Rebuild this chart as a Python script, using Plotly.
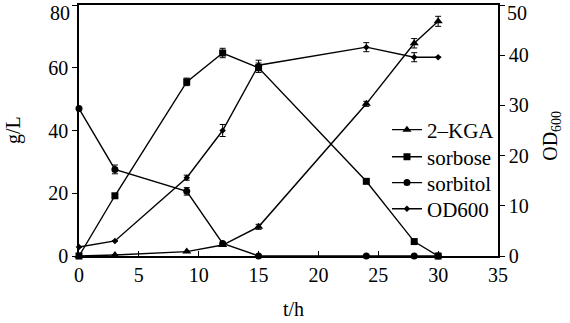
import plotly.graph_objects as go

t = [0, 3, 9, 12, 15, 24, 28, 30]

kga = [0, 0.3, 1.4, 3.5, 9.3, 48.5, 67.8, 74.8]
kga_err = [0, 0, 0, 0, 0.8, 0.8, 1.5, 1.6]

sorbose = [0, 19.2, 55.5, 64.7, 60.0, 23.8, 4.6, 0]
sorbose_err = [0, 0.6, 1.2, 1.5, 1.5, 0.5, 0, 0]

sorbitol = [47, 27.6, 20.6, 4.0, 0, 0, 0, 0]
sorbitol_err = [0, 1.4, 1.2, 0, 0, 0, 0, 0]

od600 = [1.8, 3.0, 15.6, 25.0, 38.0, 41.6, 39.6, 39.6]
od600_err = [0, 0, 0.5, 1.2, 1.0, 0.9, 0.9, 0]

y1_ticks = [0, 20, 40, 60, 80]
y2_ticks = [0, 10, 20, 30, 40, 50]

FONT = "Liberation Serif"
LINE = dict(color="black", width=1.4)

def err(a):
    return dict(type="data", array=a, color="black", thickness=1, width=3)

series = [
    ("2–KGA", kga, kga_err, "triangle-up", 8, "y", "legend"),
    ("sorbose", sorbose, sorbose_err, "square", 7, "y", "legend2"),
    ("sorbitol", sorbitol, sorbitol_err, "circle", 7, "y", "legend3"),
    ("OD600", od600, od600_err, "diamond", 5, "y2", "legend4"),
]

fig = go.Figure()
for name, ys, es, sym, sz, yax, leg in series:
    fig.add_trace(go.Scatter(x=t, y=ys, name=name, mode="lines+markers", yaxis=yax,
                             legend=leg, line=LINE,
                             marker=dict(symbol=sym, size=sz, color="black"),
                             error_y=err(es), cliponaxis=False))

axis_common = dict(tickcolor="black", ticklen=5, showline=True, linecolor="black",
                   linewidth=1.5, showgrid=False, zeroline=False, automargin=False,
                   ticklabeloverflow="allow",
                   tickfont=dict(size=20, family=FONT, color="black"))

leg_style = dict(xanchor="left", yanchor="middle", bgcolor="rgba(0,0,0,0)",
                 font=dict(size=21, family=FONT, color="black"), itemsizing="trace")
leg_x = 0.735
leg_y = [0.502, 0.394, 0.291, 0.187]

fig.update_layout(
    width=570, height=323,
    margin=dict(l=79, r=72, t=5, b=67),
    paper_bgcolor="white", plot_bgcolor="white",
    font=dict(family=FONT, size=20, color="black"),
    showlegend=True,
    legend=dict(x=leg_x, y=leg_y[0], **leg_style),
    legend2=dict(x=leg_x, y=leg_y[1], **leg_style),
    legend3=dict(x=leg_x, y=leg_y[2], **leg_style),
    legend4=dict(x=leg_x, y=leg_y[3], **leg_style),
    xaxis=dict(range=[0, 35], dtick=5, ticks="inside", mirror=True, **axis_common),
    yaxis=dict(range=[0, 80], tickvals=y1_ticks,
               ticktext=[str(v) for v in y1_ticks[:-1]] + [""],
               ticks="outside", **axis_common),
    yaxis2=dict(range=[0, 50], tickvals=y2_ticks,
                ticktext=[str(v) for v in y2_ticks[:-1]] + [""],
                ticks="outside", overlaying="y", side="right", **axis_common),
    annotations=[
        dict(text=str(y1_ticks[-1]), x=0, y=1, xref="paper", yref="paper",
             xanchor="right", yanchor="middle", xshift=-7, yshift=-8,
             showarrow=False, font=dict(size=20, family=FONT)),
        dict(text=str(y2_ticks[-1]), x=1, y=1, xref="paper", yref="paper",
             xanchor="left", yanchor="middle", xshift=7, yshift=-8,
             showarrow=False, font=dict(size=20, family=FONT)),
        dict(text="t/h", x=0.511, y=-0.211, xref="paper", yref="paper",
             xanchor="center", yanchor="middle",
             showarrow=False, font=dict(size=20, family=FONT)),
        dict(text="g/L", x=-0.155, y=0.502, xref="paper", yref="paper", textangle=-90,
             xanchor="center", yanchor="middle",
             showarrow=False, font=dict(size=20, family=FONT)),
        dict(text="OD<sub>600</sub>", x=1.126, y=0.478, xref="paper", yref="paper",
             textangle=-90, xanchor="center", yanchor="middle",
             showarrow=False, font=dict(size=20, family=FONT)),
    ],
)

fig.write_html("out.html", config={"displayModeBar": False},
               post_script="document.body.style.margin='0';")
